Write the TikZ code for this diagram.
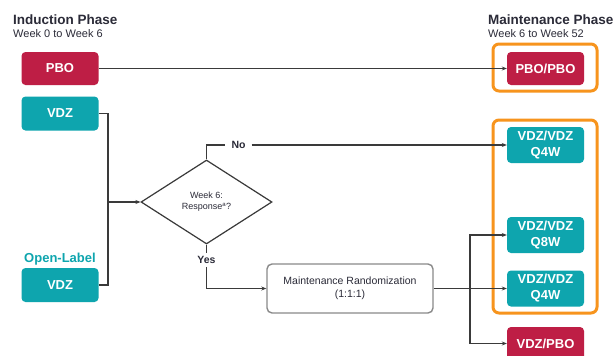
\documentclass[tikz,border=0pt]{standalone}
\usepackage{fontspec}
\setmainfont{Liberation Sans}
\usetikzlibrary{shapes.geometric,arrows.meta}
\definecolor{crim}{HTML}{BE1E45}
\definecolor{tealc}{HTML}{0EA5AE}
\definecolor{orng}{HTML}{F7941D}
\definecolor{ink}{HTML}{2B2B38}
\definecolor{lin}{HTML}{3A3A3A}
\definecolor{grayb}{HTML}{8A8A8A}
\begin{document}
\begin{tikzpicture}[x=1pt,y=-1pt,
  box/.style={rounded corners=4pt, minimum width=77pt, text=white,
    font=\fontsize{13}{16}\selectfont\bfseries, inner sep=0pt, align=center},
  pbox/.style={box, fill=crim, minimum height=33pt},
  vbox/.style={box, fill=tealc, minimum height=34pt},
  wbox/.style={box, fill=tealc, minimum height=36pt},
  grp/.style={draw=orng, line width=3pt, rounded corners=6pt},
  conn/.style={draw=lin, line width=1.1pt},
  arr/.style={conn, -{Stealth[length=5pt,width=4pt]}},
  ttl/.style={anchor=base west, inner sep=0pt, text=ink, font=\fontsize{13.5}{16}\selectfont\bfseries},
  sub/.style={anchor=base west, inner sep=0pt, text=ink, font=\fontsize{11}{13}\selectfont},
  lab/.style={text=ink, font=\fontsize{10.5}{12}\selectfont\bfseries, fill=white}
]
\useasboundingbox (0,0) rectangle (613,356);
\fill[white] (0,0) rectangle (613,356);

% titles
\node[ttl] (t1) at (13,24) {Induction Phase};
\node[sub] (s1) at (13,37) {Week 0 to Week 6};
\node[ttl] (t2) at (488,24) {Maintenance Phase};
\node[sub] (s2) at (488,37) {Week 6 to Week 52};

% groups
\draw[grp] (493,44) rectangle (597,91);
\draw[grp] (493,120) rectangle (597,313);

% left boxes
\node[pbox] (pbo) at (60,68.5) {PBO};
\node[vbox] (vdz) at (60,113.5) {VDZ};
\node[vbox] (ol) at (60,285) {VDZ};
\node[anchor=base, inner sep=0pt, text=tealc, font=\fontsize{13}{15}\selectfont\bfseries] (oltxt) at (60,262) {Open-Label};

% right boxes
\node[pbox] (pp) at (545.5,68.5) {PBO/PBO};
\node[wbox] (qa) at (545.5,145) {VDZ/VDZ\\Q4W};
\node[wbox] (q8) at (545.5,235) {VDZ/VDZ\\Q8W};
\node[wbox] (qb) at (545.5,288.5) {VDZ/VDZ\\Q4W};
\node[pbox] (vp) at (545.5,343.5) {VDZ/PBO};

% diamond
\node[draw=lin, line width=1.2pt, diamond, aspect=1.56, minimum width=131pt, minimum height=84pt,
  inner sep=0pt, align=center, text=ink, font=\fontsize{9}{11}\selectfont] (dia) at (206.5,202) {Week 6:\\Response\textsuperscript{a}?};

% randomization box
\node[draw=grayb, line width=1.4pt, rounded corners=5pt, minimum width=166pt, minimum height=49pt,
  align=center, text=ink, font=\fontsize{10.5}{13}\selectfont, inner sep=0pt] (mr) at (350,288.5) {Maintenance Randomization\\(1:1:1)};

% labels
\node[lab, inner xsep=6pt, inner ysep=1pt] (no) at (238.5,145) {No};
\node[lab, inner xsep=2pt, inner ysep=3pt] (yes) at (206.5,260) {Yes};

% coordinates
\coordinate (j) at (108,202);
\coordinate (s) at (470,288.5);

% connectors
\draw[arr] (pbo.east) -- (pp.west);
\draw[conn] (vdz.east) -| (j) |- (ol.east);
\draw[arr] (j) -- (dia.west);
\draw[conn] (dia.north) |- (no.west);
\draw[arr] (no.east) -- (qa.west);
\draw[conn] (dia.south) -- (yes.north);
\draw[arr] (yes.south) |- (mr.west);
\draw[arr] (mr.east) -- (qb.west);
\draw[arr] (s) |- (q8.west);
\draw[arr] (s) |- (vp.west);
\end{tikzpicture}
\end{document}
